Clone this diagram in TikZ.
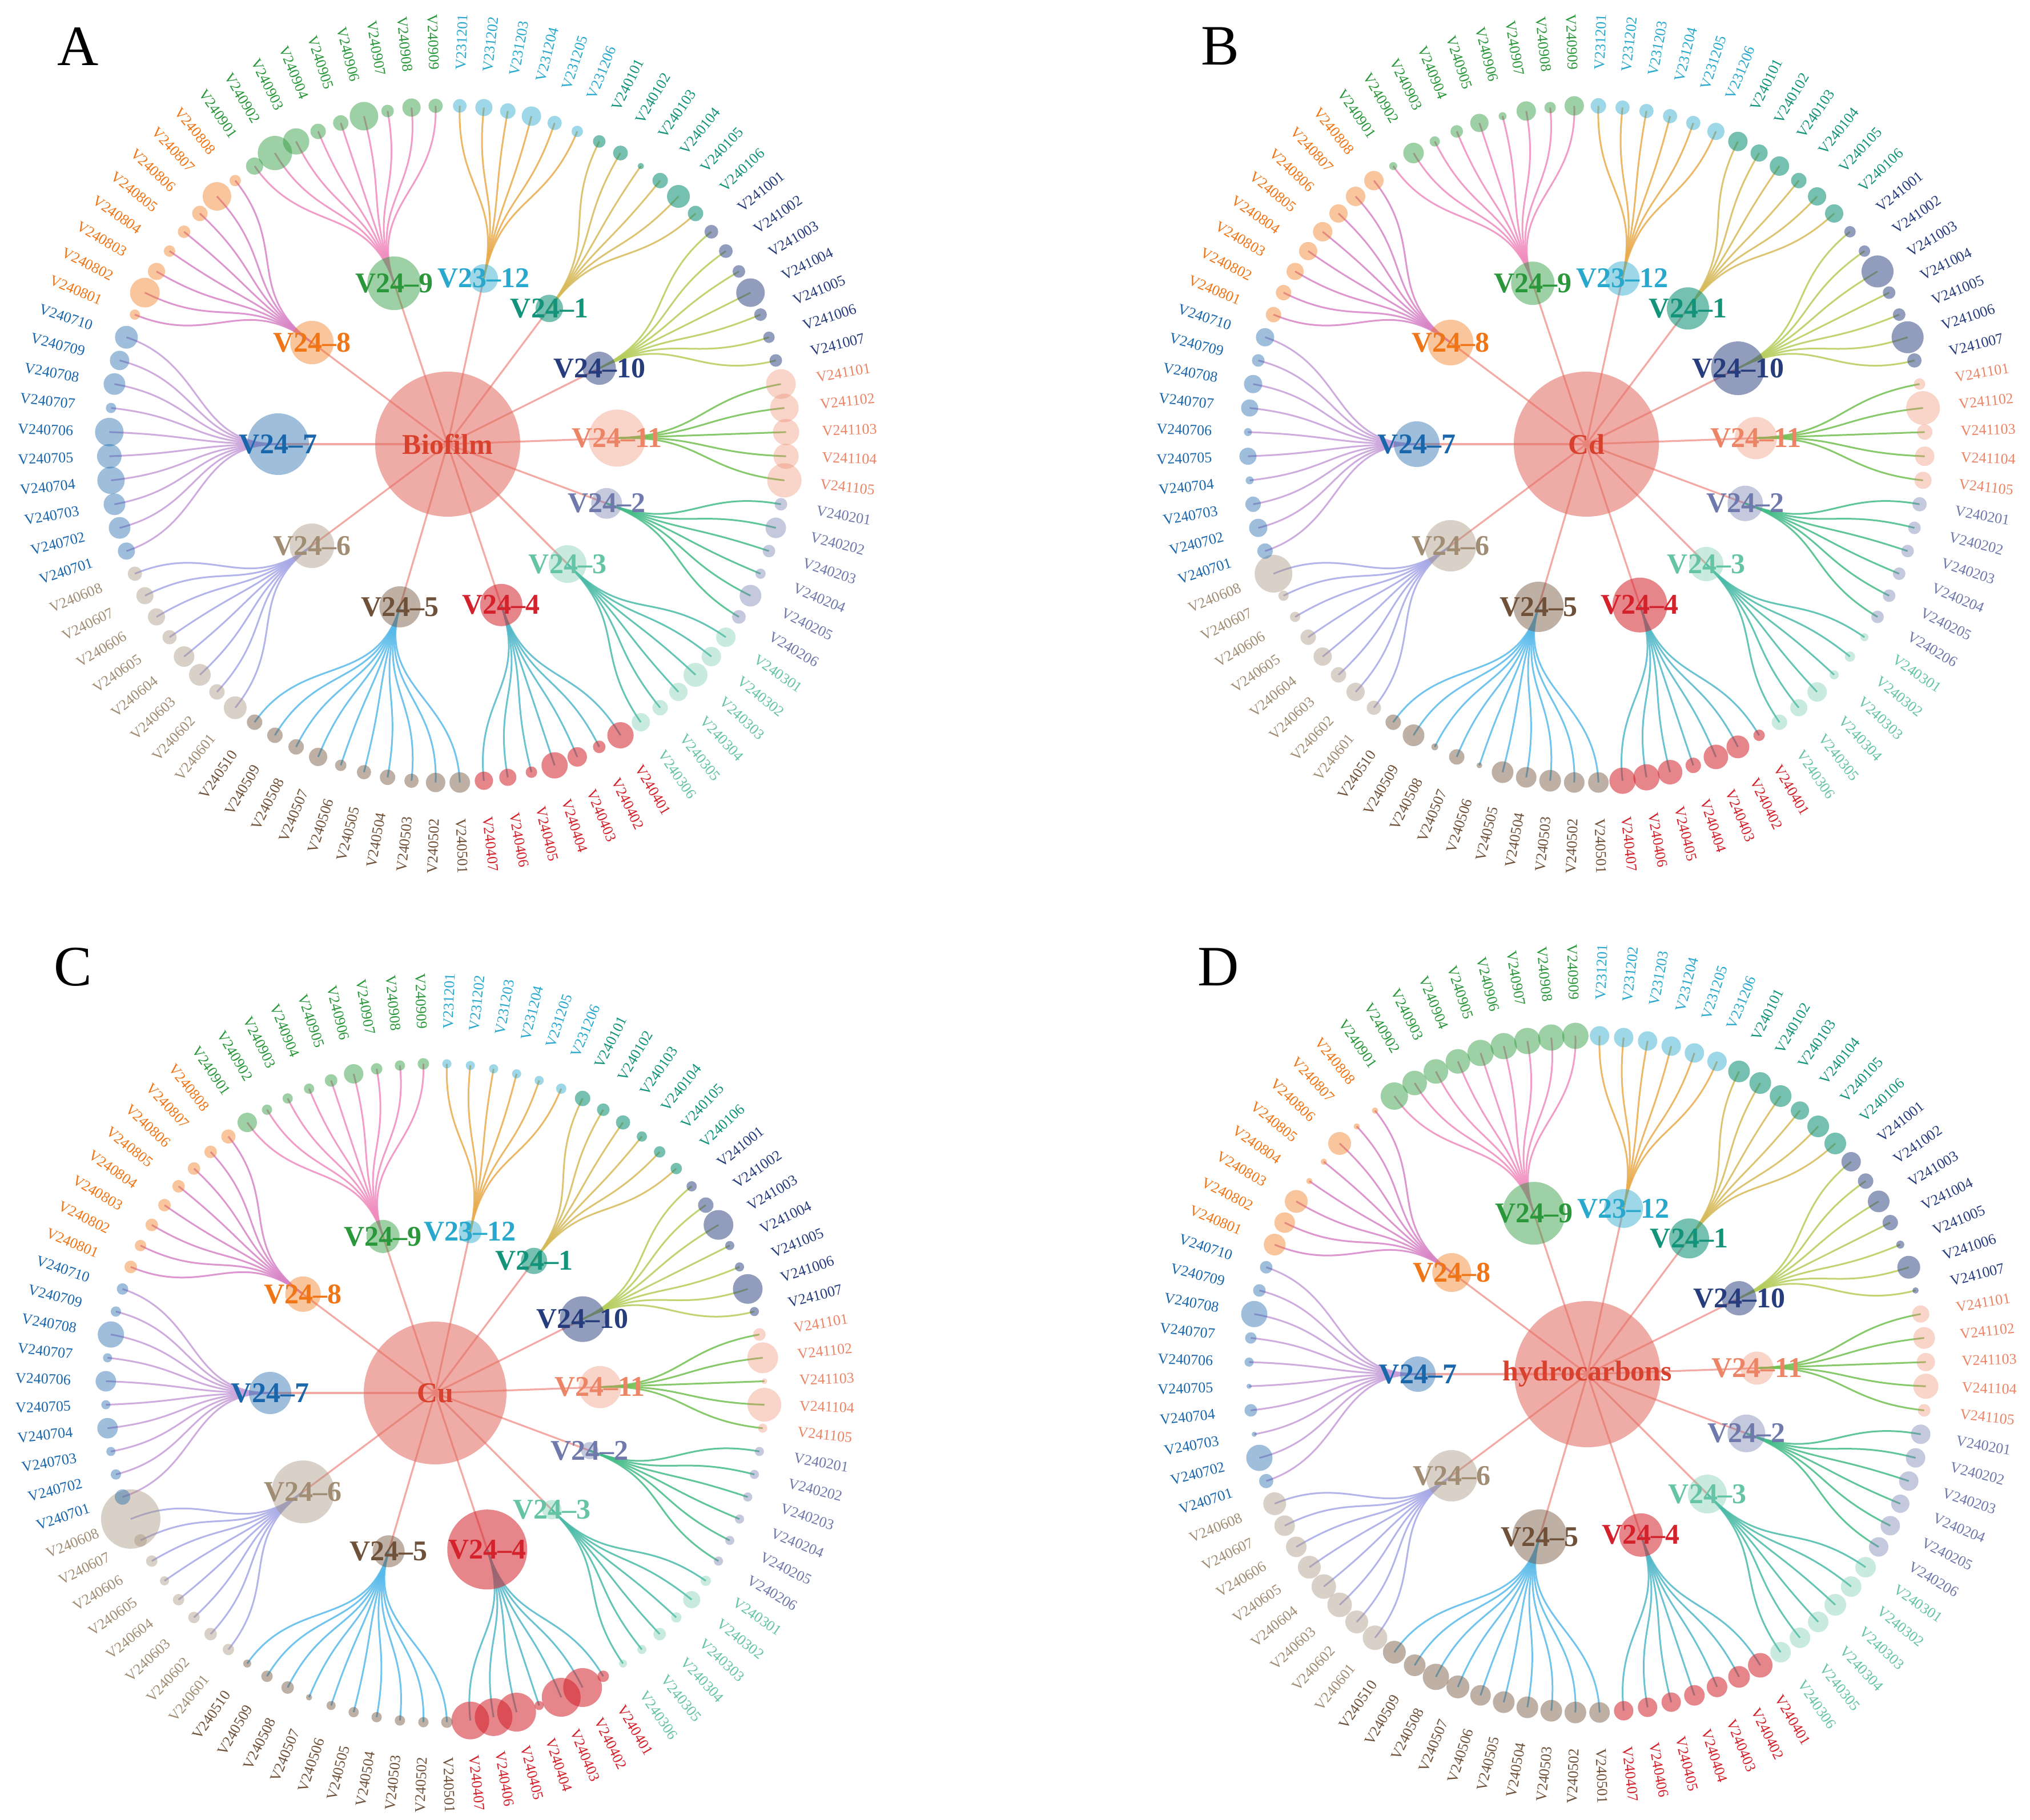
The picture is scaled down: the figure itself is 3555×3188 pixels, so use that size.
\documentclass[tikz,border=0pt]{standalone}
\usepackage{fontspec}
\setmainfont{Liberation Serif}
% node / label colours
\definecolor{c1}{HTML}{27A8CC}
\definecolor{c2}{HTML}{13937A}
\definecolor{c3}{HTML}{263C7C}
\definecolor{c4}{HTML}{EC8466}
\definecolor{c5}{HTML}{7079AB}
\definecolor{c6}{HTML}{66C4A6}
\definecolor{c7}{HTML}{D3222B}
\definecolor{c8}{HTML}{6F5139}
\definecolor{c9}{HTML}{A18D74}
\definecolor{c10}{HTML}{1A66AB}
\definecolor{c11}{HTML}{F07516}
\definecolor{c12}{HTML}{29973A}
% link colours
\definecolor{k1}{HTML}{E9AC4E}
\definecolor{k2}{HTML}{D6BA5A}
\definecolor{k3}{HTML}{B5CD5A}
\definecolor{k4}{HTML}{72C052}
\definecolor{k5}{HTML}{45BD88}
\definecolor{k6}{HTML}{4BBBA8}
\definecolor{k7}{HTML}{52B8C8}
\definecolor{k8}{HTML}{57BAEA}
\definecolor{k9}{HTML}{A6A8E6}
\definecolor{k10}{HTML}{C69ED8}
\definecolor{k11}{HTML}{D884C6}
\definecolor{k12}{HTML}{F08CBE}
\definecolor{rootfill}{HTML}{E2695F}
\definecolor{rootk}{HTML}{F29C96}
\definecolor{roott}{HTML}{D7412D}

\tikzset{
  dot/.style={circle, inner sep=0pt, outer sep=0pt, draw=none},
  rootlink/.style={draw=rootk, line width=3.2pt, draw opacity=0.85},
  treelink/.style={line width=3pt, draw opacity=0.85},
  leaflabel/.style={font=\fontsize{26}{30}\selectfont, inner sep=0pt},
  grouplabel/.style={font=\fontsize{50}{60}\selectfont\bfseries, inner sep=0pt},
  rootlabel/.style={font=\fontsize{50}{60}\selectfont\bfseries, inner sep=0pt, text=roott},
  panelletter/.style={font=\fontsize{100}{120}\selectfont, inner sep=0pt},
}

\def\dA{4.0909091}
\def\groupspec{V23–12/V2312/0/6/0.45, V24–1/V2401/6/6/0.58, V24–10/V2410/12/7/0.5,
  V24–11/V2411/19/5/0.35, V24–2/V2402/24/6/0.4, V24–3/V2403/30/6/0.35,
  V24–4/V2404/36/7/0.55, V24–5/V2405/43/10/0.45, V24–6/V2406/53/8/0.4,
  V24–7/V2407/61/10/0.42, V24–8/V2408/71/8/0.42, V24–9/V2409/79/9/0.45}

% #1 prefix, #2 cx, #3 cy, #4 leaf ring radius, #5 root label, #6 root radius, #7 group radii, #8 leaf radii
\newcommand\treepanel[8]{%
\begin{scope}[shift={(#2,#3)}]
  \pgfmathsetmacro\RL{#4}
  \pgfmathsetmacro\RG{#4/593*297}
  \pgfmathsetmacro\RM{(\RL+\RG)/2}
  \pgfmathsetmacro\RT{#4/593*656}
  \coordinate (#1-rc) at (0,0);
  % pass 1: positions and connectors
  \foreach \gl/\code/\st/\n/\op [count=\g from 1] in \groupspec {
    \pgfmathsetmacro\ga{90-(\st+\n/2)*\dA}
    \coordinate (#1-gp\g) at (\ga:\RG);
    \draw[rootlink] (#1-rc) -- (#1-gp\g);
    \foreach \j in {1,...,\n} {
      \pgfmathtruncatemacro\i{\st+\j-1}
      \pgfmathsetmacro\leafang{90-(\i+0.5)*\dA}
      \coordinate (#1-lp\i) at (\leafang:\RL);
      \draw[treelink, draw=k\g] (#1-gp\g) .. controls (\ga:\RM) and (\leafang:\RM) .. (#1-lp\i);
    }
  }
  % pass 2: circles and leaf labels
  \node[dot, fill=rootfill, fill opacity=0.55, minimum size=2*#6] (#1-root) at (#1-rc) {};
  \foreach \gl/\code/\st/\n/\op [count=\g from 1] in \groupspec {
    \pgfmathsetmacro\gr{{#7}[\g-1]}
    \node[dot, minimum size=2*\gr, fill=c\g, fill opacity=\op] (#1-g\g) at (#1-gp\g) {};
    \foreach \j in {1,...,\n} {
      \pgfmathtruncatemacro\i{\st+\j-1}
      \pgfmathsetmacro\leafang{90-(\i+0.5)*\dA}
      \pgfmathsetmacro\leafrad{{#8}[\i]}
      \node[dot, minimum size=2*\leafrad, fill=c\g, fill opacity=\op] (#1-l\i) at (#1-lp\i) {};
      \ifnum\i<44
        \node[leaflabel, text=c\g, anchor=west, rotate=\leafang] (#1-t\i) at (\leafang:\RT) {\code\ifnum\j<10 0\fi\j};
      \else
        \node[leaflabel, text=c\g, anchor=east, rotate=\leafang+180] (#1-t\i) at (\leafang:\RT) {\code\ifnum\j<10 0\fi\j};
      \fi
    }
  }
  % pass 3: group and root labels
  \foreach \gl/\code/\st/\n/\op [count=\g from 1] in \groupspec {
    \node[grouplabel, text=c\g] (#1-gl\g) at (#1-g\g.center) {\gl};
  }
  \node[rootlabel] (#1-rl) at (#1-root.center) {#5};
\end{scope}}

\begin{document}
\begin{tikzpicture}[x=1pt,y=1pt]
\fill[white] (0,0) rectangle (3555,-3188);
\useasboundingbox (0,0) rectangle (3555,-3188);

\node[panelletter] (LA) at (137,-81) {A};
\node[panelletter] (LB) at (2137,-81) {B};
\node[panelletter] (LC) at (128,-1694) {C};
\node[panelletter] (LD) at (2134,-1694) {D};

\treepanel{A}{784}{-778}{593}{Biofilm}{127}{25,24,29,50,27,33,37,36,39,54,38,47}{
12,15,13.5,17,12.5,10,
11,13,5.5,13.5,20,13.5,
12,12,11,25,11,10,11,
26,25,23,22,30,
11,18,11,9,19,12,
17,17,21,16,13.5,16,
23,11,17,23,10,15,16,
18,17,12.5,13.5,12.5,10,16,13.5,13.5,13.5,
20,13.5,19,18,12.5,15,15,12.5,
15,19,19,24,21.5,25,9,19,17,20,
9,26,15,10,11,13.5,25,10,
15,30,23,13.5,13.5,25,11,16,12.5}

\treepanel{B}{2778}{-778}{593}{Cd}{127}{30,37,47,37,31,30,48,44,45,40,40,38}{
13.5,12.5,12.5,12.5,12.5,15,
17,15,17,13.5,16,16,
10,10,28,11,11,28,12.5,
10,29.5,13.5,17,15,
12.5,11,11,11,11,11,
7,9,8,17,15,13.5,
10,20,21.5,13.5,21.5,23,23,
18,18,19,18,19,5,13.5,6,19,13.5,
12.5,16,13.5,16,13.5,9,9,33,
13.5,16,13.5,7,15,7,15,16,11,16,
13.5,13.5,15,16,17,16,17,17,
7,18,9,11,16,7,17,10,17}

\treepanel{C}{762}{-2440}{577}{Cu}{125}{20,23,40,37,15,17,70,28,55,37,31,29}{
8,8,8,8,8,9,
13.5,11,12.5,9,10,10,
9,13.5,26,8,8,26,8,
11,27,5,29.5,8,
8,8,8,8,8,8,
9,15,9,11,8,7,
10,34,34,8,34,33,33,
10,9,9,9,9,8,5.5,11,10,7,
10,11,10,10,8,10,11,52,
13.5,9,8,18,8,18,8,23,9,10,
11,10,11,11,11,11,11,12.5,
17,9,9,9,11,17,10,9,10}

\treepanel{D}{2780}{-2407}{593}{hydrocarbons}{128}{34,35,30,29,33,34,38,48,45,31,34,55}{
17,17,17,17,17,17,
19,19,19,16,19,19,
17,13.5,19,13.5,7,20,5.5,
15,19,16,22,11,
17,17,17,16,17,17,
18,18,19,18,18,18,
21.5,19,18,18,17,17,17,
18,19,19,19,19,18,20,23,19,20,
21.5,20,21.5,21.5,20,18,18,20,
12.5,23,4.5,11,4.5,8,10,23,11,11,
19,18,20,5.5,5.5,20,5.5,5.5,
24,21.5,21.5,21.5,23,23,23,23,23}
\end{tikzpicture}
\end{document}
